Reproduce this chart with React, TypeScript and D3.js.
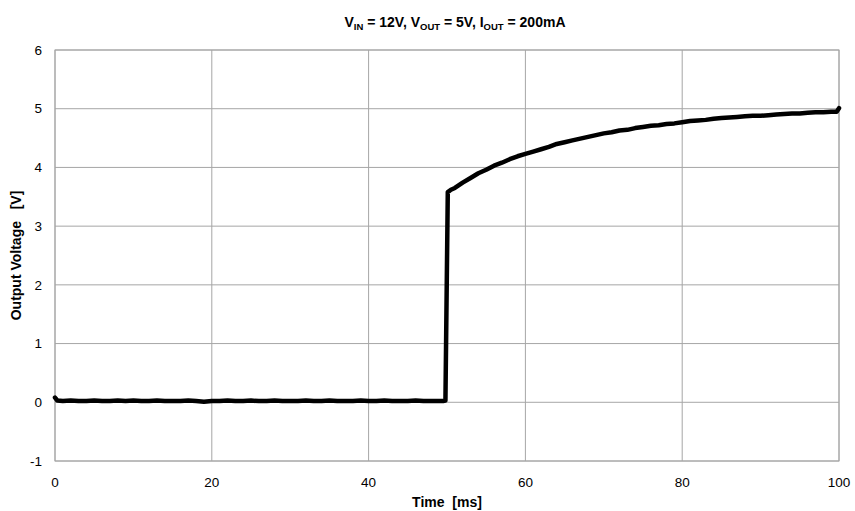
import React from "react";
import * as d3 from "d3";

const timeMs: number[] = [
  0, 0.3, 1, 2, 3, 4, 5, 6, 7, 8, 9, 10, 11, 12, 13, 14, 15, 16, 17, 18, 19, 20,
  21, 22, 23, 24, 25, 26, 27, 28, 29, 30, 31, 32, 33, 34, 35, 36, 37, 38, 39, 40,
  41, 42, 43, 44, 45, 46, 47, 48, 49, 49.5, 49.8, 50.1, 50.5, 51, 52, 53, 54, 55,
  56, 57, 58, 59, 60, 61, 62, 63, 64, 65, 66, 67, 68, 69, 70, 71, 72, 73, 74, 75,
  76, 77, 78, 79, 80, 81, 82, 83, 84, 85, 86, 87, 88, 89, 90, 91, 92, 93, 94, 95,
  96, 97, 98, 99, 99.7, 100,
];
const outputV: number[] = [
  0.08, 0.03, 0.02, 0.03, 0.02, 0.02, 0.03, 0.02, 0.02, 0.03, 0.02, 0.03, 0.02, 0.02, 0.03, 0.02, 0.02, 0.02, 0.03, 0.02, 0.01, 0.02,
  0.02, 0.03, 0.02, 0.02, 0.03, 0.02, 0.02, 0.03, 0.02, 0.02, 0.02, 0.03, 0.02, 0.02, 0.03, 0.02, 0.02, 0.02, 0.03, 0.02,
  0.02, 0.03, 0.02, 0.02, 0.02, 0.03, 0.02, 0.02, 0.02, 0.02, 0.03, 3.58, 3.62, 3.65, 3.74, 3.82, 3.90, 3.96,
  4.03, 4.08, 4.14, 4.19, 4.23, 4.27, 4.31, 4.35, 4.40, 4.43, 4.46, 4.49, 4.52, 4.55, 4.58, 4.60, 4.63, 4.64, 4.67, 4.69,
  4.71, 4.72, 4.74, 4.75, 4.77, 4.79, 4.80, 4.81, 4.83, 4.84, 4.85, 4.86, 4.87, 4.88, 4.88, 4.89, 4.90, 4.91, 4.92, 4.92,
  4.93, 4.94, 4.94, 4.95, 4.95, 5.01,
];

const xTicks: number[] = [0, 20, 40, 60, 80, 100];
const yTicks: number[] = [-1, 0, 1, 2, 3, 4, 5, 6];

const W = 855;
const H = 511;
const left = 55;
const right = 839;
const top = 50;
const bottom = 461;

export default function App() {
  const x = d3.scaleLinear().domain([0, 100]).range([left, right]);
  const y = d3.scaleLinear().domain([-1, 6]).range([bottom, top]);
  const pts = timeMs.map((t, i) => [t, outputV[i]] as [number, number]);
  const line = d3
    .line<[number, number]>()
    .x((d) => x(d[0]))
    .y((d) => y(d[1]))
    .curve(d3.curveLinear);
  const font = "Arial, 'Liberation Sans', Helvetica, sans-serif";
  const grid = "#a6a6a6";
  return (
    <svg
      width={W}
      height={H}
      style={{ position: "absolute", left: 0, top: 0, background: "#fff" }}
      fontFamily={font}
    >
      <rect x={0} y={0} width={W} height={H} fill="#fff" />
      {xTicks.map((t) => (
        <line key={"gx" + t} x1={x(t)} x2={x(t)} y1={top} y2={bottom} stroke={grid} strokeWidth={1} />
      ))}
      {yTicks.map((t) => (
        <line key={"gy" + t} x1={left} x2={right} y1={y(t)} y2={y(t)} stroke={grid} strokeWidth={1} />
      ))}
      <rect x={left} y={top} width={right - left} height={bottom - top} fill="none" stroke={grid} strokeWidth={1} />
      {yTicks.map((t) => (
        <text key={"ly" + t} x={42} y={y(t)} dy="0.35em" textAnchor="end" fontSize={13.5} fill="#000">
          {t}
        </text>
      ))}
      {xTicks.map((t) => (
        <text key={"lx" + t} x={x(t)} y={487} textAnchor="middle" fontSize={13.5} fill="#000">
          {t}
        </text>
      ))}
      <path d={line(pts) || ""} fill="none" stroke="#000" strokeWidth={4.5} strokeLinejoin="round" strokeLinecap="round" />
      <text x={447} y={507} textAnchor="middle" fontSize={14} fontWeight="bold" fill="#000" style={{ whiteSpace: "pre" }}>
        {"Time  [ms]"}
      </text>
      <text
        transform={`translate(21,${(top + bottom) / 2}) rotate(-90)`}
        textAnchor="middle"
        fontSize={14}
        fontWeight="bold"
        fill="#000"
        style={{ whiteSpace: "pre" }}
      >
        {"Output Voltage   [V]"}
      </text>
      <text x={455} y={27} textAnchor="middle" fontSize={14} fontWeight="bold" fill="#000" style={{ whiteSpace: "pre" }}>
        <tspan>V</tspan>
        <tspan fontSize={9.5} dy={3}>IN</tspan>
        <tspan dy={-3}>{" = 12V, V"}</tspan>
        <tspan fontSize={9.5} dy={3}>OUT</tspan>
        <tspan dy={-3}>{" = 5V, I"}</tspan>
        <tspan fontSize={9.5} dy={3}>OUT</tspan>
        <tspan dy={-3}>{" = 200mA"}</tspan>
      </text>
    </svg>
  );
}
